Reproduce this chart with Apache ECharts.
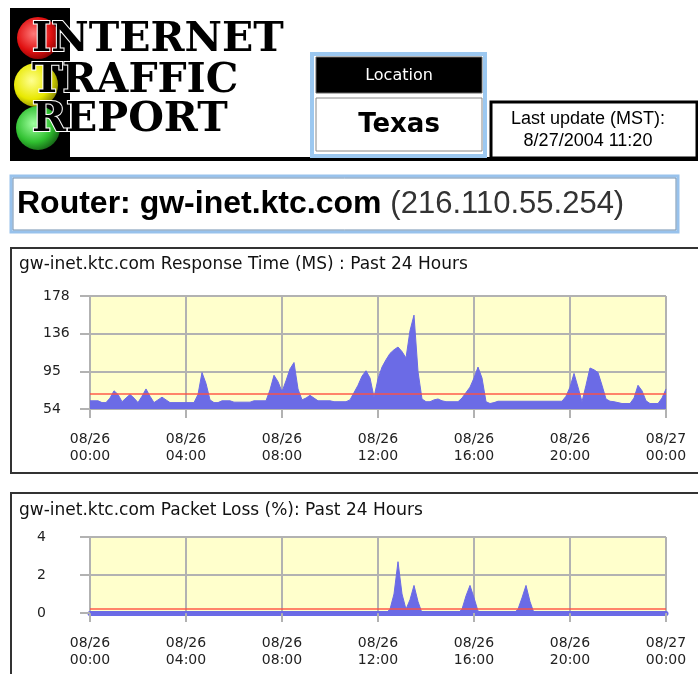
<!DOCTYPE html>
<html><head><meta charset="utf-8">
<script src="https://cdn.jsdelivr.net/npm/echarts@6/dist/echarts.min.js"></script>
<style>html,body{margin:0;padding:0;background:#fff}#c{width:698px;height:674px}</style>
</head><body><div id="c"></div>
<script>
// ---- data ----
const xTickLabels = ['08/26\n00:00','08/26\n04:00','08/26\n08:00','08/26\n12:00','08/26\n16:00','08/26\n20:00','08/27\n00:00'];
const respTicks = ['54','95','136','178'];
const lossTicks = ['0','2','4'];
const sampleHours = 1/6; // 10-minute samples
const respValues = [
  63,63,63,61,61,66,74,70,62,66,70,66,
  61,68,76,68,61,64,67,64,61,61,61,61,
  61,61,61,70,94,82,64,61,61,63,63,63,
  61.5,61.5,61.5,61.5,61.5,63,63,63,63,75,91,84,
  73,85,98,105,76,64,66,69,66,63,63,63,
  63,62,62,62,62,64,72,80,90,96,88,67,
  87,100,108,115,119,122,117,110,140,157,95,65,
  62,62,64,65,63,62,62,62,62,66,72,78,
  88,100,88,62,60,61,62.5,62.5,62.5,62.5,62.5,62.5,
  62.5,62.5,62.5,62.5,62.5,62.5,62.5,62.5,62.5,62.5,62.5,68,
  78,93,78,62,80,99,97,94,80,65,62.5,62,
  61,60,60,60,66,80,74,63,60,60,60,66,
  76
];
const lossValues = [
  0,0,0,0,0,0,0,0,0,0,0,0,
  0,0,0,0,0,0,0,0,0,0,0,0,
  0,0,0,0,0,0,0,0,0,0,0,0,
  0,0,0,0,0,0,0,0,0,0,0,0,
  0,0,0,0,0,0,0,0,0,0,0,0,
  0,0,0,0,0,0,0,0,0,0,0,0,
  0,0,0,0.2,1.0,2.7,1.0,0.2,0.7,1.45,0.6,0,
  0,0,0,0,0,0,0,0,0,0.2,0.9,1.45,
  0.8,0.1,0,0,0,0,0,0,0,0,0,0.2,
  0.8,1.45,0.6,0,0,0,0,0,0,0,0,0,
  0,0,0,0,0,0,0,0,0,0,0,0,
  0,0,0,0,0,0,0,0,0,0,0,0,
  0
];
const respAverage = 71;
const lossAverage = 0.2;
const respMin = 54, respMax = 178;
const lossMin = 0, lossMax = 4;

// ---- styles ----
const AREA = '#6b6be6';
const GRIDC = '#b2b2b2';
const BG = '#ffffcc';
const RED = '#ff5040';
const labelFont = 'DejaVu Sans';

function xAxisCfg(gi, lineColor, lineWidth){
  return {
    gridIndex: gi, type:'value', min:0, max:24, interval:4,
    axisLine:{show:true, lineStyle:{color:lineColor, width:lineWidth}},
    axisTick:{show:true, length:9, lineStyle:{color:GRIDC, width:2}},
    splitLine:{show:true, lineStyle:{color:GRIDC, width:2}},
    axisLabel:{margin:22, color:'#222', fontFamily:labelFont, fontSize:14, lineHeight:17,
      formatter:(v)=>xTickLabels[Math.round(v/4)]}
  };
}
function yAxisCfg(gi, mn, mx, ticks, margin){
  const step = (mx-mn)/(ticks.length-1);
  return {
    gridIndex: gi, type:'value', min:mn, max:mx, interval:step,
    axisLine:{show:true, lineStyle:{color:GRIDC, width:2}},
    axisTick:{show:true, length:10, lineStyle:{color:GRIDC, width:2}},
    splitLine:{show:true, lineStyle:{color:GRIDC, width:2}},
    axisLabel:{margin:margin, align:'left', color:'#222', fontFamily:labelFont, fontSize:14,
      formatter:(v)=>ticks[Math.round((v-mn)/step)]}
  };
}

const chart = echarts.init(document.getElementById('c'), null, {renderer:'canvas'});
chart.setOption({
  backgroundColor:'#fff',
  animation:false,
  title:[
    {text:'gw-inet.ktc.com Response Time (MS) : Past 24 Hours', left:19, top:256, padding:0,
     textStyle:{fontFamily:labelFont, fontSize:17, fontWeight:'normal', color:'#111'}},
    {text:'gw-inet.ktc.com Packet Loss (%): Past 24 Hours', left:19, top:502, padding:0,
     textStyle:{fontFamily:labelFont, fontSize:17, fontWeight:'normal', color:'#111'}}
  ],
  grid:[
    {left:90, right:32, top:296, height:113, show:true, backgroundColor:BG, borderWidth:0},
    {left:90, right:32, top:537, height:76, show:true, backgroundColor:BG, borderWidth:0}
  ],
  xAxis:[xAxisCfg(0, GRIDC, 2), xAxisCfg(1, AREA, 5)],
  yAxis:[yAxisCfg(0, respMin, respMax, respTicks, 47), yAxisCfg(1, lossMin, lossMax, lossTicks, 53)],
  series:[
    {type:'line', xAxisIndex:0, yAxisIndex:0, showSymbol:false, symbol:'none',
     data: respValues.map((v,i)=>[i*sampleHours, v]),
     lineStyle:{color:AREA, width:1}, areaStyle:{color:AREA, opacity:1},
     markLine:{silent:true, symbol:'none', label:{show:false},
       lineStyle:{color:RED, width:2, type:'solid', opacity:0.7},
       data:[{yAxis:respAverage}]}},
    {type:'line', xAxisIndex:1, yAxisIndex:1, showSymbol:false, symbol:'none',
     data: lossValues.map((v,i)=>[i*sampleHours, v]),
     lineStyle:{color:AREA, width:1}, areaStyle:{color:AREA, opacity:1},
     markLine:{silent:true, symbol:'none', label:{show:false},
       lineStyle:{color:RED, width:2, type:'solid', opacity:0.7},
       data:[{yAxis:lossAverage}]}}
  ],
  graphic:[
    // logo
    {type:'rect', shape:{x:10, y:8, width:60, height:150}, style:{fill:'#000'}},
    {type:'circle', shape:{cx:38, cy:38, r:21}, style:{fill:{type:'radial', x:0.4, y:0.4, r:0.7,
      colorStops:[{offset:0, color:'#ff7a7a'},{offset:0.6, color:'#e01010'},{offset:1, color:'#700000'}]}}},
    {type:'circle', shape:{cx:36, cy:85, r:22}, style:{fill:{type:'radial', x:0.4, y:0.4, r:0.7,
      colorStops:[{offset:0, color:'#ffff90'},{offset:0.6, color:'#e8e800'},{offset:1, color:'#707000'}]}}},
    {type:'circle', shape:{cx:38, cy:128, r:22}, style:{fill:{type:'radial', x:0.4, y:0.4, r:0.7,
      colorStops:[{offset:0, color:'#a0ffa0'},{offset:0.6, color:'#30c030'},{offset:1, color:'#105010'}]}}},
    {type:'text', x:32, y:40, style:{text:'INTERNET', fill:'#000', stroke:'#fff', lineWidth:2,
      font:'bold 41px "DejaVu Serif"', textVerticalAlign:'middle'}},
    {type:'text', x:32, y:81, style:{text:'TRAFFIC', fill:'#000', stroke:'#fff', lineWidth:2,
      font:'bold 41px "DejaVu Serif"', textVerticalAlign:'middle'}},
    {type:'text', x:32, y:120, style:{text:'REPORT', fill:'#000', stroke:'#fff', lineWidth:2,
      font:'bold 41px "DejaVu Serif"', textVerticalAlign:'middle'}},
    {type:'rect', shape:{x:10, y:157, width:700, height:4}, style:{fill:'#000'}},
    // location box
    {type:'rect', shape:{x:312, y:54, width:173, height:102}, style:{fill:'none', stroke:'#9cc8f0', lineWidth:4}},
    {type:'rect', shape:{x:316, y:57, width:166, height:36}, style:{fill:'#000', stroke:'#666', lineWidth:1}},
    {type:'text', x:399, y:76, style:{text:'Location', fill:'#fff', font:'16px "DejaVu Sans"',
      textAlign:'center', textVerticalAlign:'middle'}},
    {type:'rect', shape:{x:316, y:98, width:166, height:53}, style:{fill:'#fff', stroke:'#888', lineWidth:1}},
    {type:'text', x:399, y:125, style:{text:'Texas', fill:'#000', font:'bold 26px "DejaVu Sans"',
      textAlign:'center', textVerticalAlign:'middle'}},
    // last update box
    {type:'rect', shape:{x:491, y:102, width:206, height:56}, style:{fill:'#fff', stroke:'#000', lineWidth:3}},
    {type:'text', x:588, y:119, style:{text:'Last update (MST):', fill:'#000', font:'18px "Liberation Sans"',
      textAlign:'center', textVerticalAlign:'middle'}},
    {type:'text', x:588, y:141, style:{text:'8/27/2004 11:20', fill:'#000', font:'18px "Liberation Sans"',
      textAlign:'center', textVerticalAlign:'middle'}},
    // router box
    {type:'rect', shape:{x:11, y:176, width:667, height:56}, style:{fill:'#fff', stroke:'#98c2ec', lineWidth:3}},
    {type:'rect', shape:{x:13, y:178, width:663, height:52}, style:{fill:'none', stroke:'#7090b0', lineWidth:1}},
    {type:'text', x:17, y:204, style:{
      text:'{b|Router: gw-inet.ktc.com }{n|(216.110.55.254)}',
      textVerticalAlign:'middle',
      rich:{
        b:{fontFamily:'Liberation Sans', fontWeight:'bold', fontSize:32, fill:'#000'},
        n:{fontFamily:'Liberation Sans', fontWeight:'normal', fontSize:31, fill:'#333'}
      }}},
    // panels
    {type:'rect', shape:{x:11, y:248, width:700, height:225}, style:{fill:'none', stroke:'#333', lineWidth:2}},
    {type:'rect', shape:{x:11, y:493, width:700, height:200}, style:{fill:'none', stroke:'#333', lineWidth:2}}
  ]
});
</script>
</body></html>
